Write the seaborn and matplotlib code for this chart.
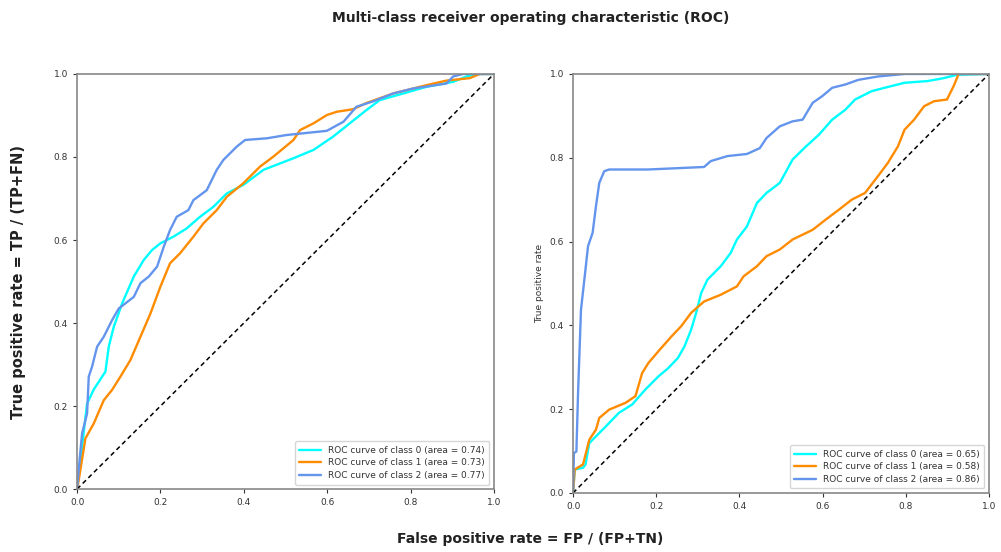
import numpy as np
import pandas as pd
import matplotlib
matplotlib.use("Agg")
import matplotlib.pyplot as plt
import seaborn as sns

# ---- data ----
L0_fpr = [0, 0.024, 0.04, 0.068, 0.076, 0.088, 0.108, 0.136, 0.16, 0.18, 0.2, 0.231, 0.263, 0.295, 0.327, 0.359, 0.399, 0.447, 0.519, 0.567, 0.614, 0.654, 0.694, 0.726, 0.782, 0.838, 0.902, 0.934, 0.958, 1.0]
L0_tpr = [0, 0.206, 0.24, 0.283, 0.343, 0.391, 0.447, 0.512, 0.552, 0.576, 0.592, 0.608, 0.628, 0.656, 0.68, 0.712, 0.733, 0.769, 0.797, 0.817, 0.849, 0.881, 0.913, 0.937, 0.953, 0.969, 0.981, 0.994, 1.0, 1.0]
L1_fpr = [0, 0.004, 0.02, 0.04, 0.064, 0.084, 0.104, 0.128, 0.152, 0.176, 0.2, 0.223, 0.247, 0.279, 0.303, 0.335, 0.359, 0.399, 0.439, 0.471, 0.519, 0.535, 0.567, 0.599, 0.623, 0.662, 0.694, 0.758, 0.838, 0.886, 0.942, 0.966, 1.0]
L1_tpr = [0, 0.022, 0.122, 0.158, 0.214, 0.239, 0.271, 0.311, 0.367, 0.423, 0.488, 0.544, 0.568, 0.608, 0.64, 0.672, 0.704, 0.737, 0.777, 0.801, 0.841, 0.865, 0.881, 0.901, 0.909, 0.915, 0.93, 0.953, 0.973, 0.984, 0.99, 1.0, 1.0]
L2_fpr = [0, 0.006, 0.012, 0.024, 0.028, 0.036, 0.048, 0.064, 0.084, 0.1, 0.136, 0.152, 0.172, 0.192, 0.208, 0.223, 0.239, 0.267, 0.279, 0.311, 0.335, 0.351, 0.383, 0.403, 0.455, 0.503, 0.599, 0.639, 0.67, 0.71, 0.758, 0.806, 0.886, 0.902, 0.926, 1.0]
L2_tpr = [0, 0.07, 0.134, 0.182, 0.271, 0.295, 0.343, 0.367, 0.407, 0.435, 0.463, 0.496, 0.512, 0.536, 0.584, 0.624, 0.656, 0.672, 0.696, 0.72, 0.769, 0.793, 0.825, 0.841, 0.845, 0.853, 0.863, 0.885, 0.921, 0.934, 0.953, 0.965, 0.977, 0.994, 1.0, 1.0]

R0_fpr = [0, 0.004, 0.024, 0.03, 0.039, 0.055, 0.079, 0.11, 0.142, 0.174, 0.205, 0.229, 0.252, 0.268, 0.284, 0.296, 0.308, 0.323, 0.355, 0.379, 0.394, 0.418, 0.442, 0.465, 0.497, 0.528, 0.56, 0.591, 0.623, 0.655, 0.678, 0.718, 0.749, 0.797, 0.852, 0.891, 0.923, 1.0]
R0_tpr = [0, 0.056, 0.06, 0.068, 0.119, 0.135, 0.159, 0.191, 0.211, 0.247, 0.278, 0.298, 0.322, 0.35, 0.39, 0.43, 0.477, 0.509, 0.541, 0.573, 0.605, 0.636, 0.692, 0.716, 0.74, 0.796, 0.827, 0.855, 0.891, 0.915, 0.939, 0.959, 0.967, 0.979, 0.983, 0.99, 0.998, 1.0]
R1_fpr = [0, 0.004, 0.024, 0.039, 0.055, 0.063, 0.087, 0.126, 0.15, 0.166, 0.181, 0.205, 0.237, 0.26, 0.284, 0.315, 0.355, 0.394, 0.41, 0.442, 0.465, 0.497, 0.528, 0.576, 0.607, 0.639, 0.67, 0.702, 0.733, 0.757, 0.781, 0.797, 0.82, 0.844, 0.868, 0.899, 0.915, 0.927, 1.0]
R1_tpr = [0, 0.056, 0.068, 0.127, 0.151, 0.179, 0.199, 0.215, 0.231, 0.286, 0.31, 0.338, 0.374, 0.398, 0.43, 0.457, 0.473, 0.493, 0.517, 0.541, 0.565, 0.581, 0.605, 0.628, 0.652, 0.676, 0.7, 0.716, 0.756, 0.788, 0.827, 0.867, 0.891, 0.923, 0.935, 0.939, 0.971, 1.0, 1.0]
R2_fpr = [0, 0.002, 0.008, 0.012, 0.019, 0.028, 0.036, 0.047, 0.055, 0.063, 0.075, 0.087, 0.181, 0.315, 0.331, 0.371, 0.418, 0.449, 0.465, 0.497, 0.528, 0.552, 0.576, 0.599, 0.623, 0.655, 0.686, 0.733, 0.797, 1.0]
R2_tpr = [0, 0.095, 0.099, 0.239, 0.437, 0.517, 0.589, 0.621, 0.684, 0.74, 0.768, 0.772, 0.772, 0.778, 0.792, 0.804, 0.809, 0.823, 0.847, 0.875, 0.887, 0.891, 0.931, 0.947, 0.967, 0.975, 0.986, 0.994, 1.0, 1.0]

left_auc = [0.74, 0.73, 0.77]
right_auc = [0.65, 0.58, 0.86]
colors = ["aqua", "darkorange", "cornflowerblue"]
ticks = [0.0, 0.2, 0.4, 0.6, 0.8, 1.0]
tick_labels = ["0.0", "0.2", "0.4", "0.6", "0.8", "1.0"]

sns.set_style("white")
plt.rcParams['font.family'] = ['DejaVu Sans']

fig = plt.figure(figsize=(10.01, 5.52), dpi=100)
axL = fig.add_axes([0.077, 0.114, 0.4165, 0.752])
axR = fig.add_axes([0.5725, 0.107, 0.4155, 0.759])

def draw(ax, curves, aucs):
    for i, ((fx, ty), auc) in enumerate(zip(curves, aucs)):
        df = pd.DataFrame({"fpr": fx, "tpr": ty})
        sns.lineplot(data=df, x="fpr", y="tpr", ax=ax, color=colors[i], lw=1.7,
                     sort=False, estimator=None,
                     label=f"ROC curve of class {i} (area = {auc:.2f})")
    sns.lineplot(x=[0, 1], y=[0, 1], ax=ax, color="k", linestyle=(0, (3, 2.2)), lw=1.1,
                 estimator=None, sort=False)
    ax.set_xlim(0, 1.0)
    ax.set_ylim(0, 1.0)
    ax.set_xticks(ticks)
    ax.set_xticklabels(tick_labels)
    ax.set_yticks(ticks)
    ax.set_yticklabels(tick_labels)
    ax.tick_params(axis="both", labelsize=6.5, colors="#333333", length=3, width=0.8,
                   direction="out", bottom=True, left=True)
    for s in ax.spines.values():
        s.set_color("#888888")
        s.set_linewidth(1.2)
    ax.set_xlabel("")
    ax.set_ylabel("")
    leg = ax.legend(loc="lower right", fontsize=6.5, frameon=True, handlelength=2.4,
                    borderpad=0.5, labelspacing=0.4)
    leg.get_frame().set_edgecolor("#cccccc")
    for t in leg.get_texts():
        t.set_color("#333333")

draw(axL, [(L0_fpr, L0_tpr), (L1_fpr, L1_tpr), (L2_fpr, L2_tpr)], left_auc)
draw(axR, [(R0_fpr, R0_tpr), (R1_fpr, R1_tpr), (R2_fpr, R2_tpr)], right_auc)
axR.set_ylabel("True positive rate", fontsize=6.5, color="#333333")

fig.text(0.53, 0.968, "Multi-class receiver operating characteristic (ROC)",
         ha="center", va="center", fontsize=10, fontweight="bold", color="#222222")
fig.text(0.018, 0.49, "True positive rate = TP / (TP+FN)", rotation=90,
         ha="center", va="center", fontsize=10.5, fontweight="bold", color="#222222")
fig.text(0.53, 0.024, "False positive rate = FP / (FP+TN)",
         ha="center", va="center", fontsize=10, fontweight="bold", color="#222222")

fig.savefig("out.png", dpi=100)
